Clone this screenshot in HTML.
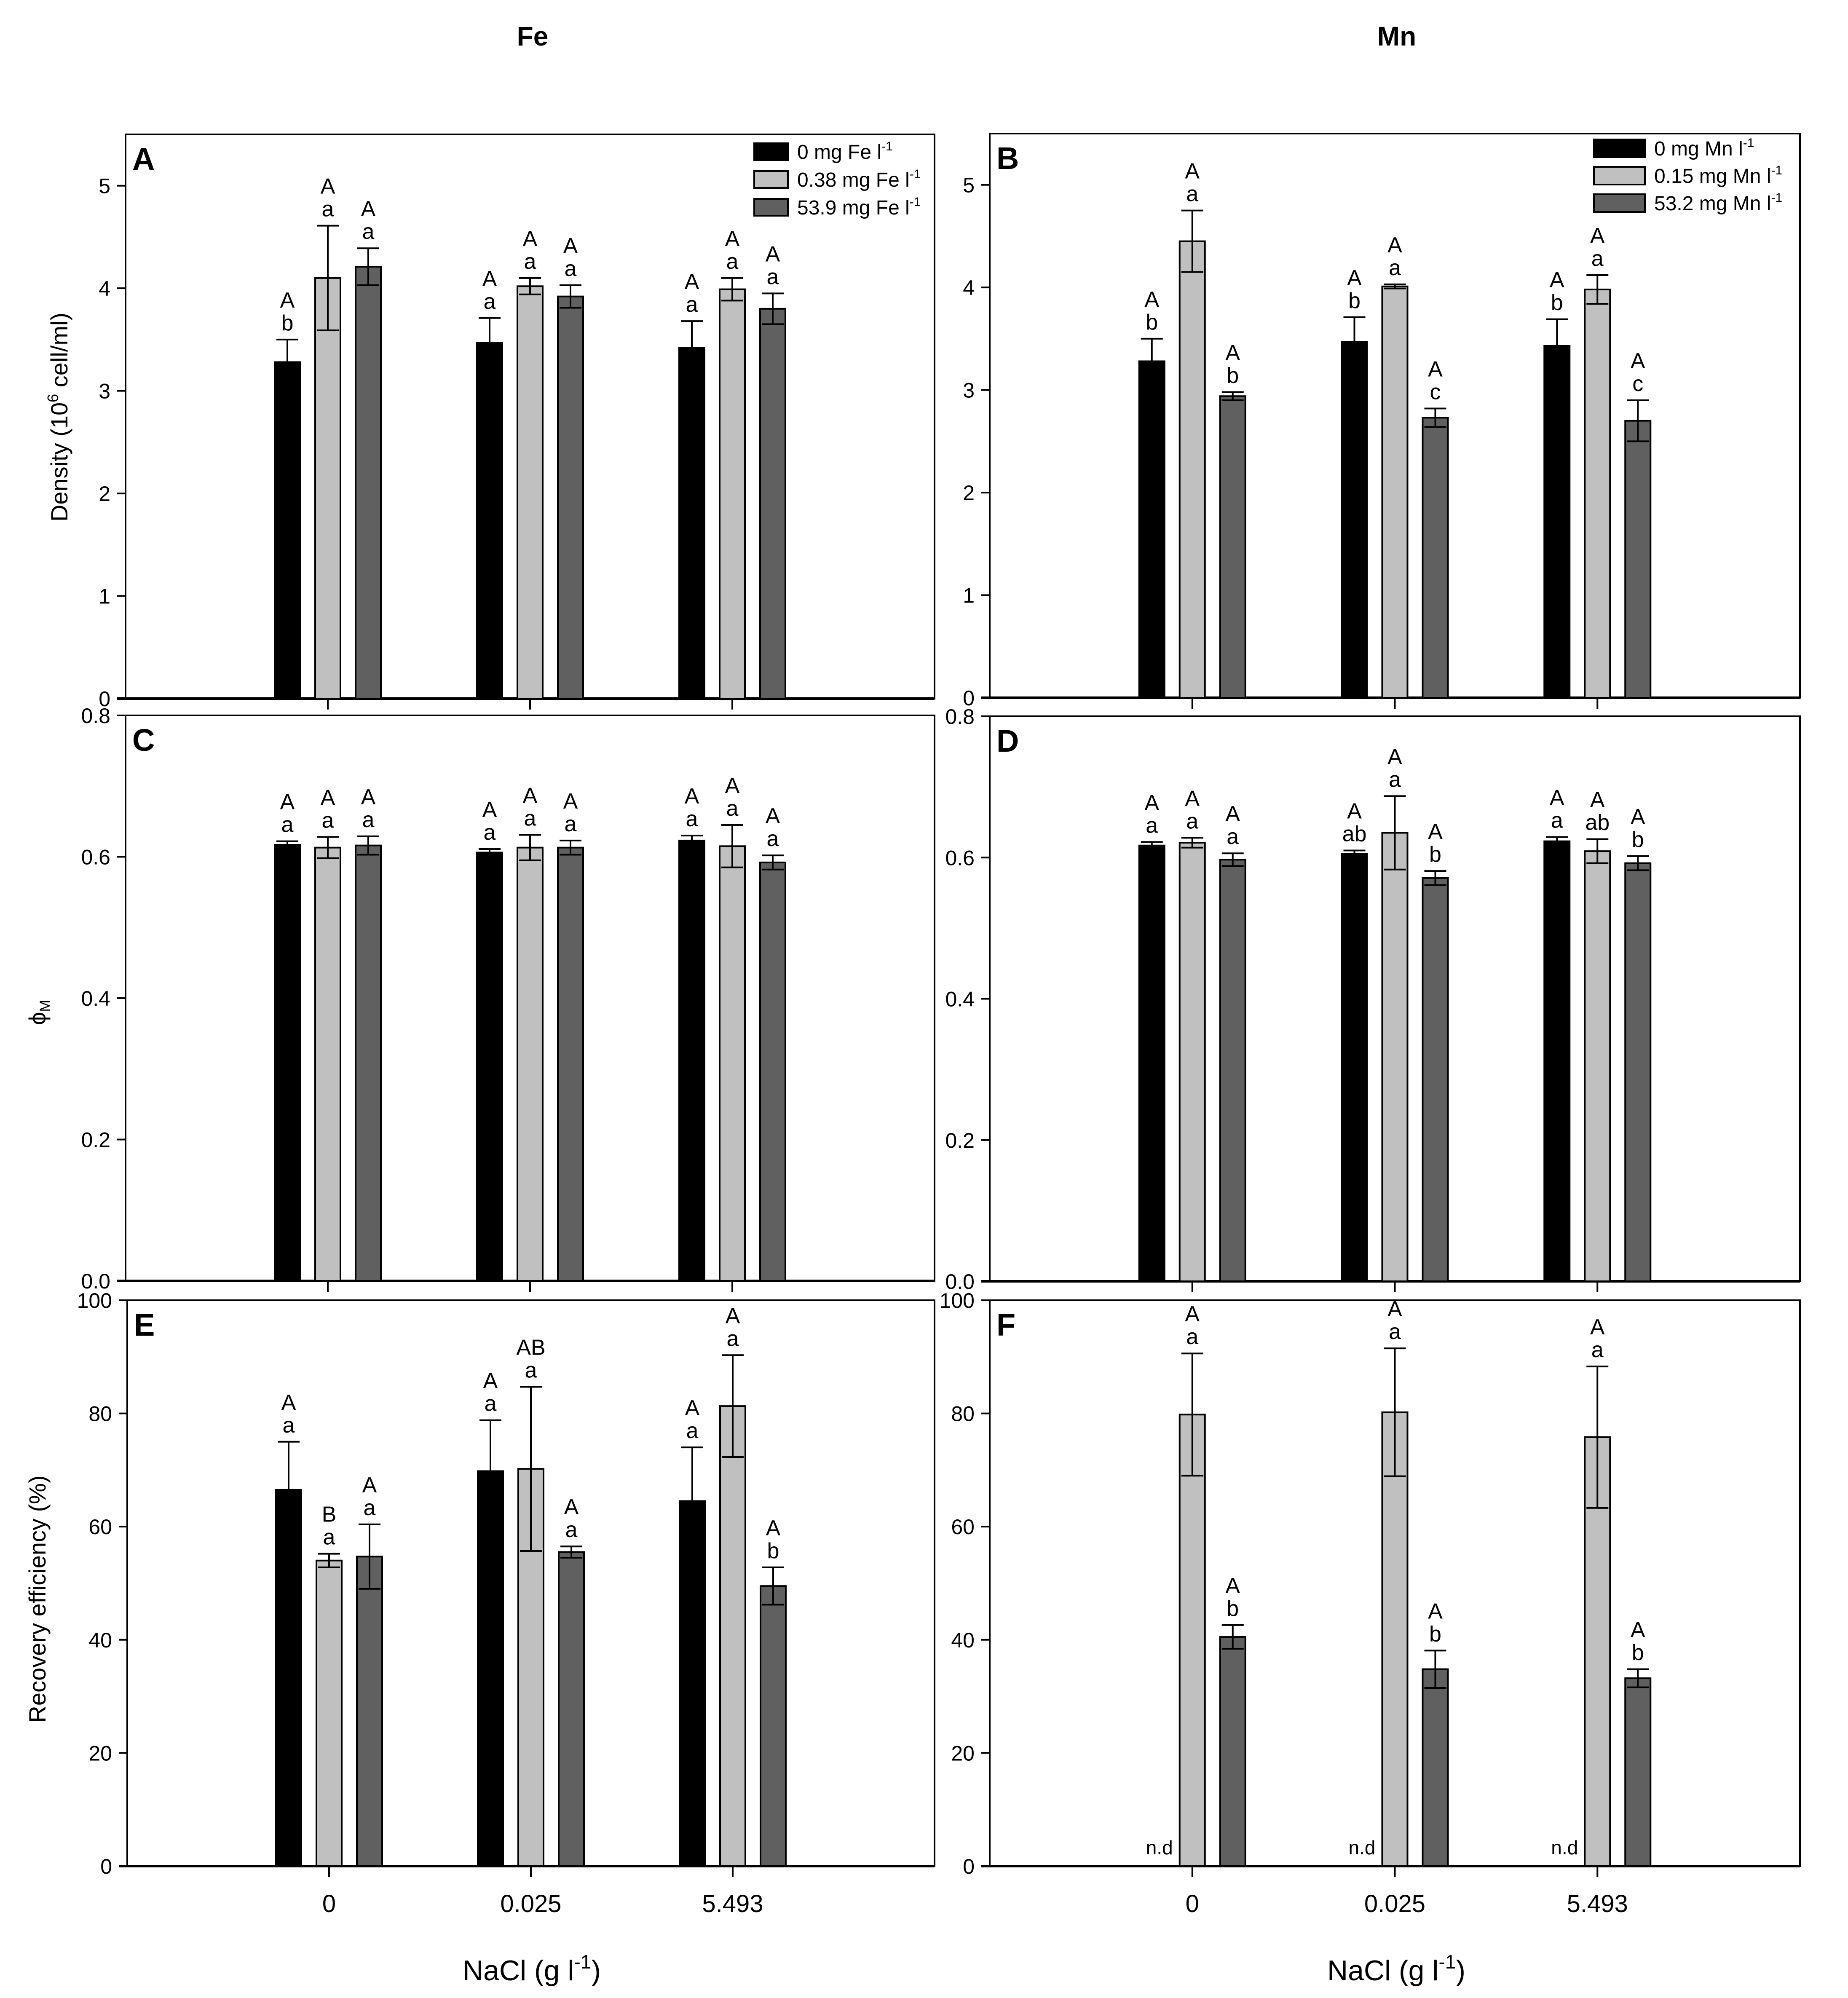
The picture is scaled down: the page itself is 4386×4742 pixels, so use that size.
<!DOCTYPE html>
<html><head><meta charset="utf-8"><style>
html,body{margin:0;padding:0;background:#fff;}
svg{display:block;font-family:"Liberation Sans",Arial,sans-serif;}
</style></head><body>
<svg id="fig" xmlns="http://www.w3.org/2000/svg" width="4386" height="4742" viewBox="0 0 4386 4742">
<rect x="0" y="0" width="4386" height="4742" fill="#fff"/>
<text x="1264" y="108" font-size="64" font-weight="bold" text-anchor="middle">Fe</text>
<text x="3315" y="108" font-size="64" font-weight="bold" text-anchor="middle">Mn</text>
<text transform="translate(160,990) rotate(-90)" font-size="56" text-anchor="middle">Density (10<tspan dy="-22" font-size="36">6</tspan><tspan dy="22"> cell/ml)</tspan></text>
<text transform="translate(108,2403) rotate(-90)" font-size="56" text-anchor="middle">ϕ<tspan dy="10" font-size="34">M</tspan></text>
<text transform="translate(108,3795) rotate(-90)" font-size="56" text-anchor="middle">Recovery efficiency (%)</text>
<text x="1262" y="4700" font-size="68" text-anchor="middle">NaCl (g l<tspan dy="-28" font-size="46">-1</tspan><tspan dy="28">)</tspan></text>
<text x="3314" y="4700" font-size="68" text-anchor="middle">NaCl (g l<tspan dy="-28" font-size="46">-1</tspan><tspan dy="28">)</tspan></text>
<g id="plots"></g>
</svg>
<script>
// ---- data (series order: control, low, high) ----
const categories = ["0","0.025","5.493"];
const feLegend = ["0 mg Fe l","0.38 mg Fe l","53.9 mg Fe l"];
const mnLegend = ["0 mg Mn l","0.15 mg Mn l","53.2 mg Mn l"];
const densityTicks = [0,1,2,3,4,5];
const phiTicks = [0.0,0.2,0.4,0.6,0.8];
const recTicks = [0,20,40,60,80,100];

const densFeMean = [[3.28,3.47,3.42],[4.10,4.02,3.99],[4.21,3.92,3.80]];
const densFeErr  = [[0.22,0.24,0.26],[0.51,0.08,0.11],[0.18,0.11,0.15]];
const densFeUp   = [["A","A","A"],["A","A","A"],["A","A","A"]];
const densFeLow  = [["b","a","a"],["a","a","a"],["a","a","a"]];

const densMnMean = [[3.28,3.47,3.43],[4.45,4.01,3.98],[2.94,2.73,2.70]];
const densMnErr  = [[0.22,0.24,0.26],[0.30,0.02,0.14],[0.04,0.09,0.20]];
const densMnUp   = [["A","A","A"],["A","A","A"],["A","A","A"]];
const densMnLow  = [["b","b","b"],["a","a","a"],["b","c","c"]];

const phiFeMean = [[0.617,0.606,0.623],[0.613,0.613,0.615],[0.616,0.613,0.592]];
const phiFeErr  = [[0.005,0.005,0.007],[0.015,0.018,0.030],[0.013,0.010,0.010]];
const phiFeUp   = [["A","A","A"],["A","A","A"],["A","A","A"]];
const phiFeLow  = [["a","a","a"],["a","a","a"],["a","a","a"]];

const phiMnMean = [[0.617,0.605,0.623],[0.621,0.635,0.609],[0.597,0.571,0.592]];
const phiMnErr  = [[0.005,0.005,0.006],[0.007,0.052,0.017],[0.009,0.010,0.010]];
const phiMnUp   = [["A","A","A"],["A","A","A"],["A","A","A"]];
const phiMnLow  = [["a","ab","a"],["a","a","ab"],["a","b","b"]];

const recFeMean = [[66.5,69.8,64.5],[54.0,70.2,81.3],[54.7,55.5,49.5]];
const recFeErr  = [[8.5,9.0,9.5],[1.2,14.5,9.0],[5.7,1.0,3.3]];
const recFeUp   = [["A","A","A"],["B","AB","A"],["A","A","A"]];
const recFeLow  = [["a","a","a"],["a","a","a"],["a","a","b"]];

const recMnMean = [[null,null,null],[79.8,80.2,75.8],[40.5,34.8,33.2]];
const recMnErr  = [[0,0,0],[10.8,11.3,12.5],[2.1,3.3,1.6]];
const recMnUp   = [["","",""],["A","A","A"],["A","A","A"]];
const recMnLow  = [["","",""],["a","a","a"],["b","b","b"]];

const NS="http://www.w3.org/2000/svg";
const root=document.getElementById('plots');
const fills=["#000000","#c0c0c0","#606060"];
function mk(tag,attrs,parent){const e=document.createElementNS(NS,tag);for(const k in attrs)e.setAttribute(k,attrs[k]);(parent||root).appendChild(e);return e;}

function panel(o){
  const g=mk('g',{});
  
  
  const yS=v=>o.y0-(v-0)/(o.max)*(o.y0-o.yTop);
  const xC=i=>o.x0+(i+1)*(o.x1-o.x0)/4;
  const fr=mk('rect',{x:o.x0,y:o.yTop,width:o.x1-o.x0,height:o.y0-o.yTop,fill:'none',stroke:'#000','stroke-width':4},g);
  
  
  const ax=mk('line',{x1:o.x0-20,x2:o.x1,y1:o.y0,y2:o.y0,stroke:'#000','stroke-width':6},g);
  
  
  o.ticks.forEach(t=>{
    const y=yS(t);
    mk('line',{x1:o.x0-20,x2:o.x0,y1:y,y2:y,stroke:'#000','stroke-width':4},g);
    const tl=mk('text',{x:o.x0-36,y:y+18,'font-size':50,'text-anchor':'end'},g);
    tl.textContent=o.fmt(t);
    
    
  });
  categories.forEach((c,i)=>{
    const x=xC(i);
    mk('line',{x1:x,x2:x,y1:o.y0,y2:o.y0+26,stroke:'#000','stroke-width':4},g);
    if(o.xlabels){
      const xl=mk('text',{x:x,y:4538,'font-size':58,'text-anchor':'middle'},g);
      xl.textContent=c;
      
      
    }
  });
  for(let s=0;s<3;s++){
    for(let i=0;i<3;i++){
      const cx=xC(i)+(s-1)*96;
      const v=o.mean[s][i];
      if(v===null){
        const nd=mk('text',{x:cx+18,y:o.y0-28,'font-size':46,'text-anchor':'middle'},g);
        nd.textContent='n.d';
        
        
        continue;
      }
      const yt=yS(v);
      const b=mk('rect',{x:cx-30,y:yt,width:60,height:o.y0-yt,fill:fills[s],stroke:'#000','stroke-width':4},g);
      
      
      const e=o.err[s][i];
      const ya=yS(v+e), yb=yS(v-e);
      const eb=mk('path',{d:`M${cx},${ya}V${yb}M${cx-26},${ya}H${cx+26}M${cx-26},${yb}H${cx+26}`,stroke:'#000','stroke-width':4,fill:'none'},g);
      
      
      const lo=mk('text',{x:cx,y:ya-22,'font-size':52,'text-anchor':'middle'},g);
      lo.textContent=o.low[s][i];
      
      
      const up=mk('text',{x:cx,y:ya-76,'font-size':52,'text-anchor':'middle'},g);
      up.textContent=o.up[s][i];
      
      
    }
  }
  const pl=mk('text',{x:o.x0+16,y:o.yTop+84,'font-size':74,'font-weight':'bold'},g);
  pl.textContent=o.letter;
  
  
  if(o.legend){
    const L=o.legend;
    o.legend.labels.forEach((lab,k)=>{
      const cy=L.y+k*L.dy;
      const r=mk('rect',{x:L.x,y:cy-L.h/2,width:L.w,height:L.h,fill:fills[k],stroke:'#000','stroke-width':4},g);
      
      
      const t=mk('text',{x:L.x+L.w+22,y:cy+17,'font-size':48},g);
      t.textContent=lab;
      const sp=mk('tspan',{dy:-20,'font-size':30},t);
      sp.textContent='-1';
      
      
    });
  }
}
const f1=t=>String(t), f2=t=>t.toFixed(1);
const L=298,LR=2218,R=2349,RR=4272;
panel({letter:'A',x0:L,x1:LR,yTop:319,y0:1658,max:5.5,ticks:densityTicks,fmt:f1,mean:densFeMean,err:densFeErr,up:densFeUp,low:densFeLow,
  legend:{labels:feLegend,x:1790,y:360,dy:66,w:80,h:40}});
panel({letter:'B',x0:R,x1:RR,yTop:317,y0:1656,max:5.5,ticks:densityTicks,fmt:f1,mean:densMnMean,err:densMnErr,up:densMnUp,low:densMnLow,
  legend:{labels:mnLegend,x:3783,y:352,dy:65,w:121,h:42}});
panel({letter:'C',x0:L,x1:LR,yTop:1698,y0:3040,max:0.8,ticks:phiTicks,fmt:f2,mean:phiFeMean,err:phiFeErr,up:phiFeUp,low:phiFeLow});
panel({letter:'D',x0:R,x1:RR,yTop:1700,y0:3041,max:0.8,ticks:phiTicks,fmt:f2,mean:phiMnMean,err:phiMnErr,up:phiMnUp,low:phiMnLow});
panel({letter:'E',x0:L+4,x1:LR,yTop:3086,y0:4429,max:100,ticks:recTicks,fmt:f1,mean:recFeMean,err:recFeErr,up:recFeUp,low:recFeLow,xlabels:true});
panel({letter:'F',x0:R,x1:RR,yTop:3086,y0:4429,max:100,ticks:recTicks,fmt:f1,mean:recMnMean,err:recMnErr,up:recMnUp,low:recMnLow,xlabels:true});
</script>
</body></html>
